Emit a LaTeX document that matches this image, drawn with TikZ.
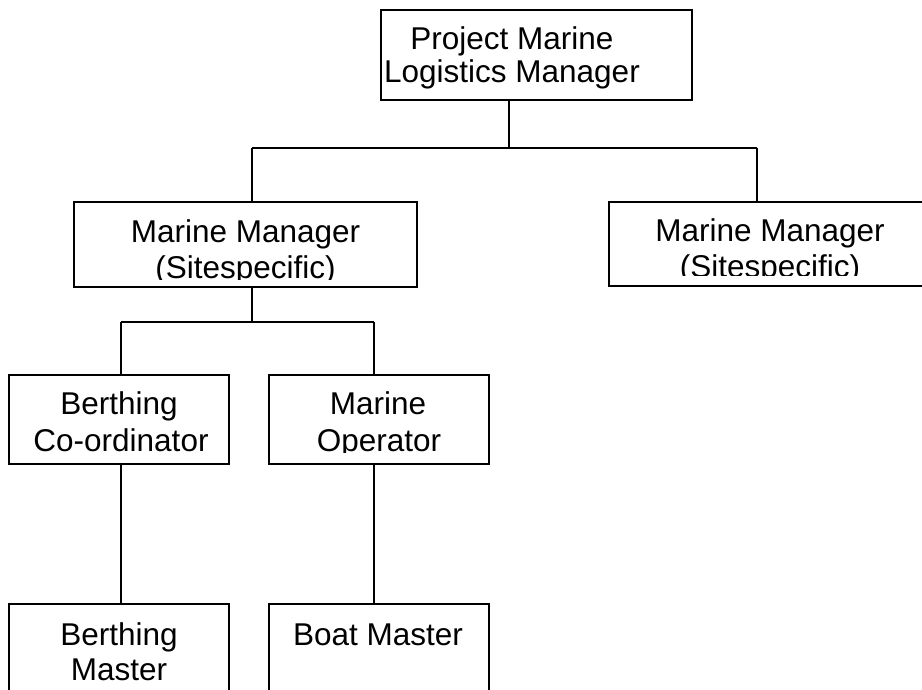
\documentclass[tikz,border=0pt]{standalone}
\usepackage{fontspec}
\setmainfont{Liberation Sans}
\begin{document}
\begin{tikzpicture}[x=1pt,y=-1pt,
  box/.style={draw, line width=1.8pt, inner sep=0pt},
  txt/.style={anchor=base, inner sep=0pt, font=\fontsize{31.5}{36}\selectfont},
  conn/.style={line width=1.8pt}]
\clip (0,0) rectangle (922,690);
% boxes
\node[box, minimum width=311pt, minimum height=90pt] (pm) at (536.5,55) {};
\node[box, minimum width=343pt, minimum height=85pt] (mml) at (245.5,244.5) {};
\node[box, minimum width=322pt, minimum height=84pt] (mmr) at (770,244) {};
\node[box, minimum width=220pt, minimum height=89pt] (bc) at (119,419.5) {};
\node[box, minimum width=220pt, minimum height=89pt] (mo) at (379,419.5) {};
\node[box, minimum width=220pt, minimum height=100pt] (bm) at (119,654) {};
\node[box, minimum width=220pt, minimum height=100pt] (bo) at (379,654) {};
% texts (clipped as in the reference)
\begin{scope}
\clip (381,10) rectangle (692,89.5);
\node[txt] (pmA) at (512,50) {Project Marine};
\node[txt] (pmB) at (512,83) {Logistics Manager};
\end{scope}
\begin{scope}
\clip (74,202) rectangle (417,279.5);
\node[txt] (mmlA) at (245.5,242.7) {Marine Manager};
\node[txt] (mmlB) at (245.5,279) {(Sitespecific)};
\end{scope}
\begin{scope}
\clip (609,202) rectangle (931,275);
\node[txt] (mmrA) at (770,241.7) {Marine Manager};
\node[txt] (mmrB) at (770,277.5) {(Sitespecific)};
\end{scope}
\begin{scope}
\clip (9,375) rectangle (489,452.5);
\node[txt] (bcA) at (119,414.3) {Berthing};
\node[txt] (bcB) at (121,451.7) {Co-ordinator};
\node[txt] (moA) at (378,414.3) {Marine};
\node[txt] (moB) at (379,451.7) {Operator};
\end{scope}
\node[txt] (bmA) at (119,645) {Berthing};
\node[txt] (bmB) at (119,680) {Master};
\node[txt] (boA) at (378,645) {Boat Master};
% connectors
\coordinate (j0) at (509,148);
\coordinate (jl) at (252,148);
\coordinate (jr) at (757,148);
\draw[conn] (pm.south -| j0) -- (j0);
\draw[conn] (jl) -- (jr);
\draw[conn] (jl) -- (mml.north -| jl);
\draw[conn] (jr) -- (mmr.north -| jr);
\coordinate (k0) at (252,322);
\coordinate (kl) at (121,322);
\coordinate (kr) at (374,322);
\draw[conn] (mml.south -| k0) -- (k0);
\draw[conn] (kl) -- (kr);
\draw[conn] (kl) -- (bc.north -| kl);
\draw[conn] (kr) -- (mo.north -| kr);
\draw[conn] (bc.south -| kl) -- (bm.north -| kl);
\draw[conn] (mo.south -| kr) -- (bo.north -| kr);
\end{tikzpicture}
\end{document}
